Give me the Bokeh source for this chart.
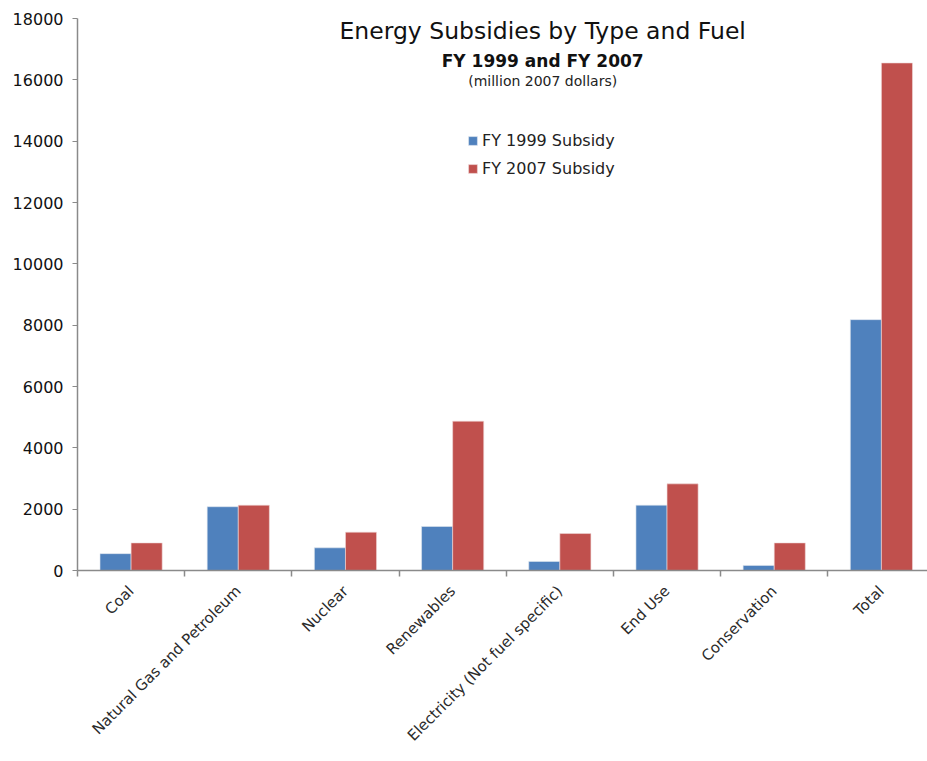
import math
from bokeh.plotting import figure
from bokeh.models import Range1d, FixedTicker, Legend, LegendItem, ColumnDataSource
from bokeh.core.properties import value
from bokeh.embed import file_html
from bokeh.resources import INLINE

categories = ["Coal", "Natural Gas and Petroleum", "Nuclear", "Renewables",
              "Electricity (Not fuel specific)", "End Use", "Conservation", "Total"]
fy1999 = [550, 2080, 740, 1435, 295, 2130, 165, 8180]
fy2007 = [900, 2130, 1250, 4870, 1205, 2825, 900, 16550]
y_ticks = [0, 2000, 4000, 6000, 8000, 10000, 12000, 14000, 16000, 18000]

FONT = "DejaVu Sans"
BLUE = "#4F81BD"
RED = "#C0504D"

centers = [i + 0.5 for i in range(len(categories))]
bw = 0.29

p = figure(width=927, height=761, output_backend="svg", toolbar_location=None,
           x_range=Range1d(0, 7.93), y_range=Range1d(0, 18000),
           min_border_left=77, min_border_right=0, min_border_top=18, min_border_bottom=191)
p.outline_line_color = None
p.grid.visible = False
p.background_fill_color = "white"
p.border_fill_color = "white"

src = ColumnDataSource(dict(xb=[c - bw / 2 for c in centers], xr=[c + bw / 2 for c in centers],
                            b=fy1999, r=fy2007))
rb = p.vbar(x="xb", top="b", width=bw, source=src, fill_color=BLUE, line_color="#dfe6ef", line_width=0.6)
rr = p.vbar(x="xr", top="r", width=bw, source=src, fill_color=RED, line_color="#f0dada", line_width=0.6)

# x axis
xt = FixedTicker(ticks=centers, minor_ticks=list(range(len(categories) + 1)))
p.xaxis.ticker = xt
p.xaxis.major_label_overrides = {c: n for c, n in zip(centers, categories)}
p.xaxis.major_label_orientation = math.pi / 4
p.xaxis.major_tick_out = 0
p.xaxis.major_tick_in = 0
p.xaxis.minor_tick_out = 6
p.xaxis.minor_tick_in = 0
p.xaxis.minor_tick_line_color = "#8a8a8a"
p.xaxis.minor_tick_line_width = 1.5
p.xaxis.axis_line_color = "#8a8a8a"
p.xaxis.axis_line_width = 1.5
p.xaxis.major_label_text_font = FONT
p.xaxis.major_label_text_font_size = "15px"
p.xaxis.major_label_text_color = "#2a2a2a"
p.xaxis.major_label_standoff = 12

# y axis
p.yaxis.ticker = FixedTicker(ticks=y_ticks)
p.yaxis.minor_tick_line_color = None
p.yaxis.major_tick_out = 5
p.yaxis.major_tick_in = 0
p.yaxis.major_tick_line_color = "#8a8a8a"
p.yaxis.axis_line_color = "#8a8a8a"
p.yaxis.axis_line_width = 1.5
p.yaxis.major_label_text_font = FONT
p.yaxis.major_label_text_font_size = "16px"
p.yaxis.major_label_text_color = "#111111"
p.yaxis.major_label_standoff = 9

# titles
p.text(x=[4.34], y=[17580], text=["Energy Subsidies by Type and Fuel"],
       text_font=value(FONT), text_font_size="23.5px", text_color="#111111",
       text_align="center", text_baseline="middle")
p.text(x=[4.34], y=[16620], text=["FY 1999 and FY 2007"],
       text_font=value(FONT), text_font_size="17px", text_font_style="bold", text_color="#111111",
       text_align="center", text_baseline="middle")
p.text(x=[4.34], y=[15970], text=["(million 2007 dollars)"],
       text_font=value(FONT), text_font_size="14px", text_color="#222222",
       text_align="center", text_baseline="middle")

legend = Legend(items=[LegendItem(label="FY 1999 Subsidy", renderers=[rb]),
                       LegendItem(label="FY 2007 Subsidy", renderers=[rr])],
                location=(390, 392), padding=0, margin=0, spacing=8,
                glyph_width=11, glyph_height=11, label_height=20, label_standoff=4,
                label_text_font=FONT, label_text_font_size="16px", label_text_color="#222222",
                border_line_color=None, background_fill_alpha=0)
p.add_layout(legend)

open("out.html", "w").write(file_html(p, INLINE))
